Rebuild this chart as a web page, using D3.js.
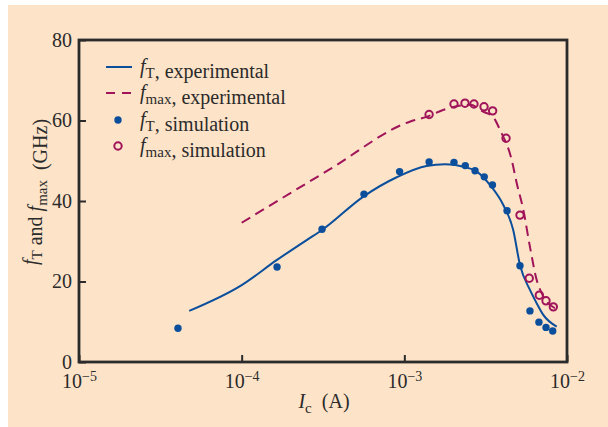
<!DOCTYPE html>
<html lang="en">
<head>
<meta charset="UTF-8">
<title>fT and fmax vs Ic</title>
<script src="https://d3js.org/d3.v7.min.js"></script>
<style>
  body { margin: 0; background: #ffffff; }
  svg text { font-family: "Liberation Serif", "DejaVu Serif", serif; fill: #2b2b2b; }
</style>
</head>
<body>
<svg id="chart" width="608" height="427"></svg>
<script>
// x tick exponents (10^n)
const xTickExp = [-5, -4, -3, -2];
const yTicks = [0, 20, 40, 60, 80];

// fT, experimental (solid line)
const ftExpI = [4.76e-5, 1.0e-4, 1.64e-4, 2.51e-4, 3.12e-4, 5.6e-4, 8.97e-4, 1.37e-3, 1.78e-3, 2.31e-3, 2.79e-3, 3.36e-3, 4.06e-3, 4.67e-3, 5.14e-3, 5.92e-3, 6.51e-3, 7.15e-3, 8.64e-3];
const ftExpF = [12.7, 19.1, 25.3, 30.3, 32.8, 41.1, 45.9, 48.7, 49.1, 48.5, 47.3, 44.0, 39.0, 32.8, 24.1, 17.9, 14.6, 11.7, 8.8];

// fmax, experimental (dashed line)
const fmaxExpI = [1.0e-4, 3.49e-4, 1.08e-3, 1.37e-3, 1.73e-3, 2.54e-3, 3.05e-3, 3.51e-3, 3.88e-3, 4.57e-3, 4.91e-3, 5.39e-3, 5.92e-3, 6.51e-3, 6.99e-3, 8.43e-3];
const fmaxExpF = [34.6, 47.9, 59.7, 60.9, 62.6, 63.9, 62.2, 60.9, 57.6, 50.2, 44.4, 37.8, 28.6, 20.4, 17.1, 13.4];

// fT, simulation (filled dots)
const ftSimI = [4.06e-5, 1.65e-4, 3.12e-4, 5.65e-4, 9.35e-4, 1.42e-3, 2.02e-3, 2.37e-3, 2.72e-3, 3.10e-3, 3.48e-3, 4.28e-3, 5.14e-3, 5.92e-3, 6.72e-3, 7.43e-3, 8.17e-3];
const ftSimF = [8.4, 23.6, 33.0, 41.7, 47.3, 49.7, 49.6, 48.8, 47.5, 46.0, 44.0, 37.6, 23.9, 12.7, 9.9, 8.6, 7.7];

// fmax, simulation (open circles)
const fmaxSimI = [1.42e-3, 2.02e-3, 2.36e-3, 2.68e-3, 3.09e-3, 3.49e-3, 4.22e-3, 5.14e-3, 5.86e-3, 6.76e-3, 7.43e-3, 8.24e-3];
const fmaxSimF = [61.5, 64.1, 64.3, 64.1, 63.4, 62.4, 55.6, 36.5, 20.8, 16.6, 15.2, 13.7];

const blue = "#0b4f9c";
const red = "#a0145a";
const ink = "#2b2b2b";

const svg = d3.select("#chart");

// peach panel
svg.append("rect")
    .attr("x", 8).attr("y", 5)
    .attr("width", 600).attr("height", 422)
    .attr("fill", "#fde3c8");

const plotL = 79, plotR = 567, plotT = 40, plotB = 362;

const x = d3.scaleLog().domain([1e-5, 1e-2]).range([plotL, plotR]);
const y = d3.scaleLinear().domain([0, 80]).range([plotB, plotT]);

const zip = (xs, ys) => xs.map((v, i) => ({ i: v, f: ys[i] }));

// x axis ticks (inside)
const xAxis = svg.append("g")
    .attr("transform", `translate(0,${plotB})`)
    .call(d3.axisBottom(x)
        .tickValues(xTickExp.map(e => Math.pow(10, e)))
        .tickSizeInner(-7).tickSizeOuter(0)
        .tickFormat(""));
xAxis.select(".domain").remove();
xAxis.selectAll(".tick line").attr("stroke", ink).attr("stroke-width", 2);

xAxis.selectAll(".tick").each(function(d, k) {
    const t = d3.select(this).append("text")
        .attr("y", 26)
        .attr("text-anchor", "middle")
        .attr("font-size", 20);
    t.append("tspan").text("10");
    t.append("tspan").attr("dy", -7).attr("font-size", 14).text("\u2212" + Math.abs(xTickExp[k]));
});

// y axis ticks (inside)
const yAxis = svg.append("g")
    .attr("transform", `translate(${plotL},0)`)
    .call(d3.axisLeft(y)
        .tickValues(yTicks)
        .tickSizeInner(-7).tickSizeOuter(0)
        .tickPadding(7));
yAxis.select(".domain").remove();
yAxis.selectAll(".tick line").attr("stroke", ink).attr("stroke-width", 2);
yAxis.selectAll(".tick text")
    .attr("font-size", 20)
    .attr("font-family", "Liberation Serif, serif")
    .attr("fill", ink)
    .attr("dy", "0.32em");

// frame
svg.append("rect")
    .attr("x", plotL).attr("y", plotT)
    .attr("width", plotR - plotL).attr("height", plotB - plotT)
    .attr("fill", "none")
    .attr("stroke", ink)
    .attr("stroke-width", 2.8);

// lines
const line = d3.line()
    .x(d => x(d.i))
    .y(d => y(d.f))
    .curve(d3.curveMonotoneX);

svg.append("path")
    .datum(zip(ftExpI, ftExpF))
    .attr("d", line)
    .attr("fill", "none")
    .attr("stroke", blue)
    .attr("stroke-width", 2);

svg.append("path")
    .datum(zip(fmaxExpI, fmaxExpF))
    .attr("d", line)
    .attr("fill", "none")
    .attr("stroke", red)
    .attr("stroke-width", 2)
    .attr("stroke-dasharray", "10,6");

// simulation points
svg.append("g").selectAll("circle")
    .data(zip(ftSimI, ftSimF))
    .join("circle")
    .attr("cx", d => x(d.i))
    .attr("cy", d => y(d.f))
    .attr("r", 3.7)
    .attr("fill", blue);

svg.append("g").selectAll("circle")
    .data(zip(fmaxSimI, fmaxSimF))
    .join("circle")
    .attr("cx", d => x(d.i))
    .attr("cy", d => y(d.f))
    .attr("r", 3.7)
    .attr("fill", "none")
    .attr("stroke", red)
    .attr("stroke-width", 2);

// label helper: italic f with subscript
function fLabel(t, sub) {
    t.append("tspan").attr("font-style", "italic").text("f");
    t.append("tspan").attr("font-size", 15).attr("dy", 5).text(sub);
    t.append("tspan").attr("dy", -5).text("");
}

// legend
const legend = svg.append("g").attr("font-size", 20);
const rows = [
    { sub: "T", txt: ", experimental", kind: "solid", y: 67 },
    { sub: "max", txt: ", experimental", kind: "dash", y: 93 },
    { sub: "T", txt: ", simulation", kind: "dot", y: 120 },
    { sub: "max", txt: ", simulation", kind: "ring", y: 146 }
];
rows.forEach(r => {
    if (r.kind === "solid" || r.kind === "dash") {
        legend.append("line")
            .attr("x1", 106).attr("x2", 132)
            .attr("y1", r.y).attr("y2", r.y)
            .attr("stroke", r.kind === "solid" ? blue : red)
            .attr("stroke-width", 2)
            .attr("stroke-dasharray", r.kind === "dash" ? "9,7" : null);
    } else {
        legend.append("circle")
            .attr("cx", 118).attr("cy", r.y).attr("r", 3.7)
            .attr("fill", r.kind === "dot" ? blue : "none")
            .attr("stroke", r.kind === "ring" ? red : null)
            .attr("stroke-width", 2);
    }
    const t = legend.append("text").attr("x", 140).attr("y", r.y + 6);
    fLabel(t, r.sub);
    t.append("tspan").text(r.txt);
});

// x title
const xt = svg.append("text")
    .attr("x", 324).attr("y", 408)
    .attr("text-anchor", "middle")
    .attr("font-size", 20);
xt.append("tspan").attr("font-style", "italic").text("I");
xt.append("tspan").attr("font-size", 15).attr("dy", 5).text("c");
xt.append("tspan").attr("dy", -5).text("\u2002(A)");

// y title
const yt = svg.append("text")
    .attr("transform", "translate(37,192) rotate(-90)")
    .attr("text-anchor", "middle")
    .attr("font-size", 20);
fLabel(yt, "T");
yt.append("tspan").text(" and ");
fLabel(yt, "max");
yt.append("tspan").text("\u2002(GHz)");
</script>
</body>
</html>
